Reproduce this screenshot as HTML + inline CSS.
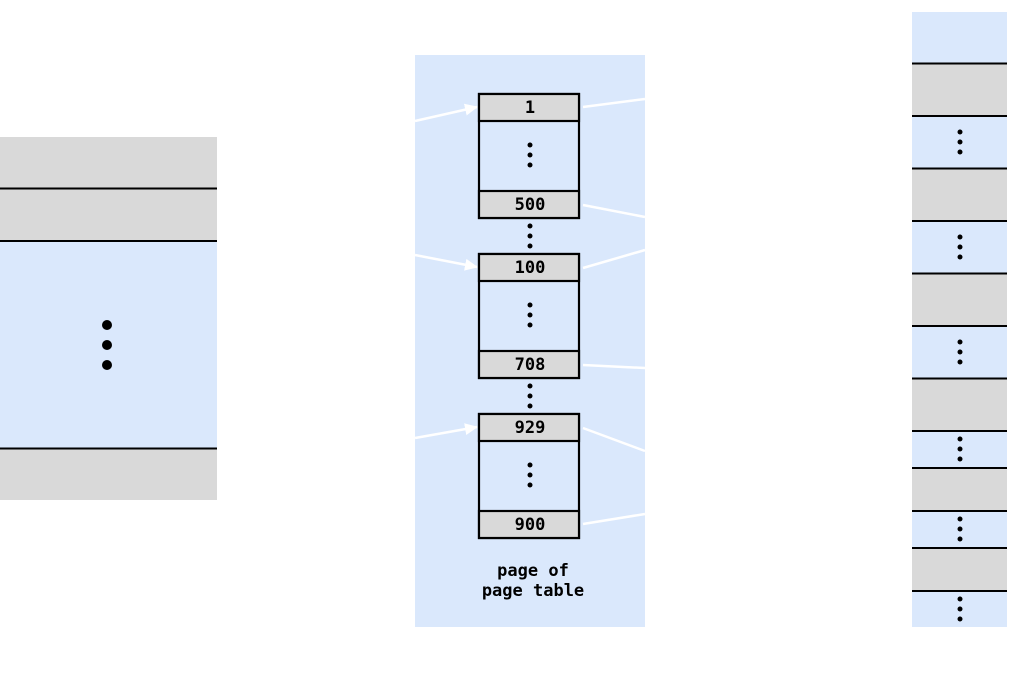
<!DOCTYPE html>
<html><head><meta charset="utf-8"><style>html,body{margin:0;padding:0;background:#fff}svg{display:block}</style></head>
<body>
<svg width="1020" height="673" viewBox="0 0 1020 673" xmlns="http://www.w3.org/2000/svg">
<defs>
<marker id="a" markerWidth="14" markerHeight="14" refX="12" refY="6" orient="auto" markerUnits="userSpaceOnUse"><path d="M0,0 L13,6 L0,12 z" fill="#fff"/></marker>
</defs>
<!-- left -->
<rect x="0" y="137" width="217" height="104" fill="#d9d9d9"/>
<rect x="0" y="241" width="217" height="207" fill="#dae8fc"/>
<rect x="0" y="448" width="217" height="52" fill="#d9d9d9"/>
<g stroke="#000" stroke-width="2"><line x1="0" y1="188.5" x2="217" y2="188.5"/><line x1="0" y1="241" x2="217" y2="241"/><line x1="0" y1="448.5" x2="217" y2="448.5"/></g>
<g fill="#000"><circle cx="107" cy="325" r="5"/><circle cx="107" cy="345" r="5"/><circle cx="107" cy="365" r="5"/></g>
<!-- middle -->
<rect x="415" y="55" width="230" height="572" fill="#dae8fc"/>
<g stroke="#fff" stroke-width="2.5" fill="none">
<line x1="415" y1="121" x2="477" y2="107" marker-end="url(#a)"/>
<line x1="415" y1="255" x2="477" y2="267" marker-end="url(#a)"/>
<line x1="415" y1="438" x2="477" y2="427" marker-end="url(#a)"/>
<line x1="583" y1="107" x2="645" y2="99"/>
<line x1="583" y1="205" x2="645" y2="217"/>
<line x1="583" y1="268" x2="645" y2="250"/>
<line x1="583" y1="365" x2="645" y2="368"/>
<line x1="583" y1="428" x2="645" y2="451"/>
<line x1="583" y1="524" x2="645" y2="514"/>
</g>
<g stroke="#000" stroke-width="2.2">
<rect x="479" y="94" width="100" height="124" fill="#dae8fc"/>
<rect x="479" y="94" width="100" height="27" fill="#d9d9d9"/>
<rect x="479" y="191" width="100" height="27" fill="#d9d9d9"/>
<rect x="479" y="254" width="100" height="124" fill="#dae8fc"/>
<rect x="479" y="254" width="100" height="27" fill="#d9d9d9"/>
<rect x="479" y="351" width="100" height="27" fill="#d9d9d9"/>
<rect x="479" y="414" width="100" height="124" fill="#dae8fc"/>
<rect x="479" y="414" width="100" height="27" fill="#d9d9d9"/>
<rect x="479" y="511" width="100" height="27" fill="#d9d9d9"/>
</g>
<g fill="#000">
<circle cx="530" cy="145" r="2.5"/><circle cx="530" cy="155" r="2.5"/><circle cx="530" cy="165" r="2.5"/>
<circle cx="530" cy="226" r="2.5"/><circle cx="530" cy="236" r="2.5"/><circle cx="530" cy="246" r="2.5"/>
<circle cx="530" cy="305" r="2.5"/><circle cx="530" cy="315" r="2.5"/><circle cx="530" cy="325" r="2.5"/>
<circle cx="530" cy="386" r="2.5"/><circle cx="530" cy="396" r="2.5"/><circle cx="530" cy="406" r="2.5"/>
<circle cx="530" cy="465" r="2.5"/><circle cx="530" cy="475" r="2.5"/><circle cx="530" cy="485" r="2.5"/>
</g>
<g font-family="DejaVu Sans Mono, Liberation Mono, monospace" font-weight="bold" font-size="17" text-anchor="middle" fill="#000">
<text x="530" y="113">1</text>
<text x="530" y="210">500</text>
<text x="530" y="273">100</text>
<text x="530" y="370">708</text>
<text x="530" y="433">929</text>
<text x="530" y="530">900</text>
<text x="533" y="576">page of</text>
<text x="533" y="596">page table</text>
</g>
<!-- right -->
<rect x="912" y="12" width="95" height="615" fill="#dae8fc"/>
<g fill="#d9d9d9">
<rect x="912" y="63" width="95" height="53"/>
<rect x="912" y="168" width="95" height="53"/>
<rect x="912" y="273" width="95" height="53"/>
<rect x="912" y="378" width="95" height="53"/>
<rect x="912" y="468" width="95" height="43"/>
<rect x="912" y="548" width="95" height="43"/>
</g>
<g stroke="#000" stroke-width="2">
<line x1="912" y1="63.5" x2="1007" y2="63.5"/><line x1="912" y1="116" x2="1007" y2="116"/>
<line x1="912" y1="168.5" x2="1007" y2="168.5"/><line x1="912" y1="221" x2="1007" y2="221"/>
<line x1="912" y1="273.5" x2="1007" y2="273.5"/><line x1="912" y1="326" x2="1007" y2="326"/>
<line x1="912" y1="378.5" x2="1007" y2="378.5"/><line x1="912" y1="431" x2="1007" y2="431"/>
<line x1="912" y1="468" x2="1007" y2="468"/><line x1="912" y1="511" x2="1007" y2="511"/>
<line x1="912" y1="548" x2="1007" y2="548"/><line x1="912" y1="591" x2="1007" y2="591"/>
</g>
<g fill="#000">
<circle cx="960" cy="132" r="2.5"/><circle cx="960" cy="142" r="2.5"/><circle cx="960" cy="152" r="2.5"/>
<circle cx="960" cy="237" r="2.5"/><circle cx="960" cy="247" r="2.5"/><circle cx="960" cy="257" r="2.5"/>
<circle cx="960" cy="342" r="2.5"/><circle cx="960" cy="352" r="2.5"/><circle cx="960" cy="362" r="2.5"/>
<circle cx="960" cy="439" r="2.5"/><circle cx="960" cy="449" r="2.5"/><circle cx="960" cy="459" r="2.5"/>
<circle cx="960" cy="519" r="2.5"/><circle cx="960" cy="529" r="2.5"/><circle cx="960" cy="539" r="2.5"/>
<circle cx="960" cy="599" r="2.5"/><circle cx="960" cy="609" r="2.5"/><circle cx="960" cy="619" r="2.5"/>
</g>
</svg>
</body></html>
